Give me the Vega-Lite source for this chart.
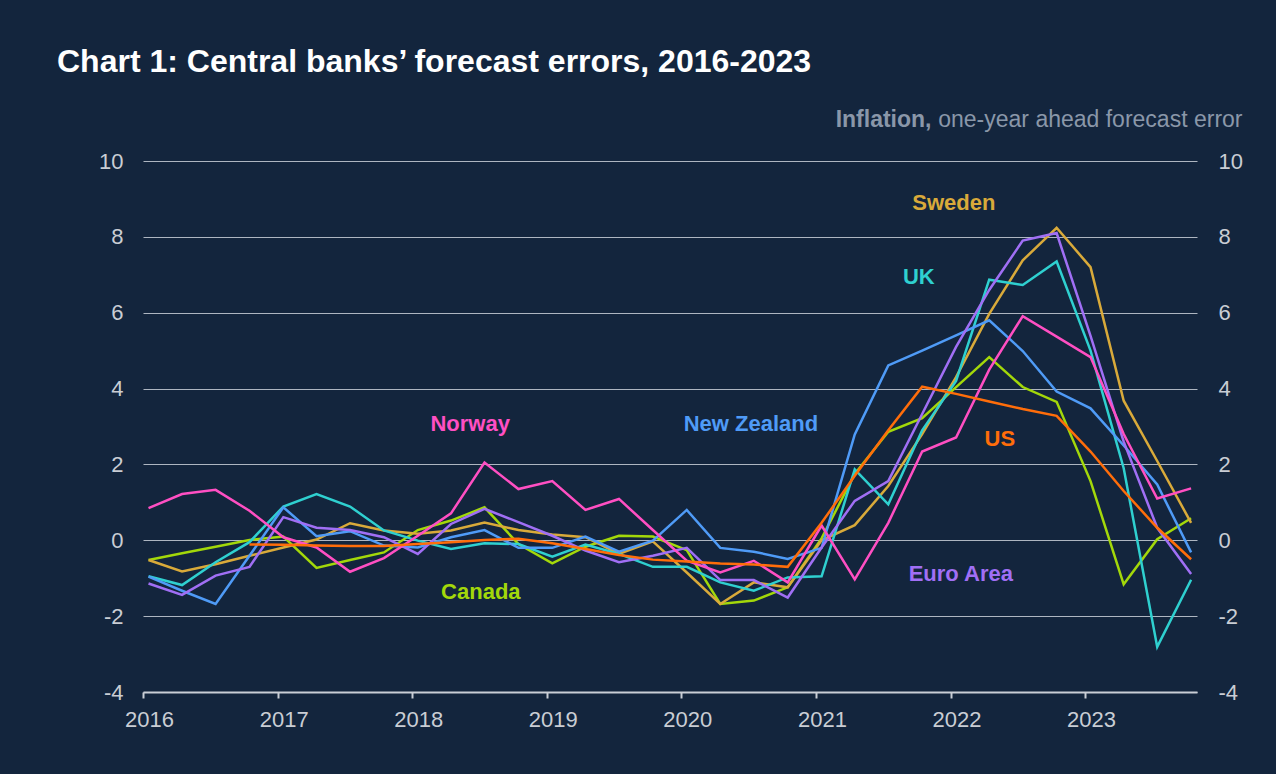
{
  "$schema": "https://vega.github.io/schema/vega-lite/v6.json",
  "width": 1054,
  "height": 531,
  "autosize": {"type": "none"},
  "padding": {"left": 143, "top": 161, "right": 79, "bottom": 82},
  "background": "#13253d",
  "config": {
    "view": {"stroke": null},
    "font": "Liberation Sans"
  },
  "title": {
    "text": "Chart 1: Central banks’ forecast errors, 2016-2023",
    "anchor": "start",
    "frame": "group",
    "dx": -86,
    "offset": 30,
    "font": "Liberation Sans",
    "fontSize": 32,
    "fontWeight": "bold",
    "color": "#ffffff"
  },
  "datasets": {
    "series": [
      {"date": "2016-01-16", "Norway": 0.85, "New Zealand": -0.96, "Canada": -0.52, "Sweden": -0.52, "UK": -0.95, "US": null, "Euro Area": -1.14},
      {"date": "2016-04-16", "Norway": 1.22, "New Zealand": -1.33, "Canada": -0.34, "Sweden": -0.82, "UK": -1.18, "US": null, "Euro Area": -1.44},
      {"date": "2016-07-16", "Norway": 1.33, "New Zealand": -1.68, "Canada": -0.17, "Sweden": -0.63, "UK": -0.58, "US": null, "Euro Area": -0.93},
      {"date": "2016-10-16", "Norway": 0.78, "New Zealand": -0.41, "Canada": 0.01, "Sweden": -0.41, "UK": -0.05, "US": -0.11, "Euro Area": -0.70},
      {"date": "2017-01-16", "Norway": 0.08, "New Zealand": 0.87, "Canada": 0.10, "Sweden": -0.19, "UK": 0.89, "US": -0.12, "Euro Area": 0.61},
      {"date": "2017-04-16", "Norway": -0.19, "New Zealand": 0.11, "Canada": -0.73, "Sweden": 0.02, "UK": 1.22, "US": -0.14, "Euro Area": 0.33},
      {"date": "2017-07-16", "Norway": -0.83, "New Zealand": 0.24, "Canada": -0.52, "Sweden": 0.45, "UK": 0.89, "US": -0.15, "Euro Area": 0.27},
      {"date": "2017-10-16", "Norway": -0.47, "New Zealand": -0.14, "Canada": -0.32, "Sweden": 0.26, "UK": 0.26, "US": -0.15, "Euro Area": 0.08},
      {"date": "2018-01-16", "Norway": 0.12, "New Zealand": -0.19, "Canada": 0.27, "Sweden": 0.17, "UK": -0.01, "US": -0.10, "Euro Area": -0.36},
      {"date": "2018-04-16", "Norway": 0.71, "New Zealand": 0.08, "Canada": 0.52, "Sweden": 0.26, "UK": -0.23, "US": -0.05, "Euro Area": 0.43},
      {"date": "2018-07-16", "Norway": 2.05, "New Zealand": 0.27, "Canada": 0.87, "Sweden": 0.47, "UK": -0.08, "US": 0.01, "Euro Area": 0.83},
      {"date": "2018-10-16", "Norway": 1.35, "New Zealand": -0.20, "Canada": -0.10, "Sweden": 0.27, "UK": -0.10, "US": 0.04, "Euro Area": 0.48},
      {"date": "2019-01-16", "Norway": 1.56, "New Zealand": -0.20, "Canada": -0.61, "Sweden": 0.15, "UK": -0.43, "US": -0.08, "Euro Area": 0.12},
      {"date": "2019-04-16", "Norway": 0.80, "New Zealand": 0.10, "Canada": -0.17, "Sweden": 0.08, "UK": -0.11, "US": -0.23, "Euro Area": -0.27},
      {"date": "2019-07-16", "Norway": 1.09, "New Zealand": -0.30, "Canada": 0.12, "Sweden": -0.36, "UK": -0.36, "US": -0.39, "Euro Area": -0.58},
      {"date": "2019-10-16", "Norway": 0.27, "New Zealand": -0.01, "Canada": 0.10, "Sweden": -0.03, "UK": -0.70, "US": -0.51, "Euro Area": -0.41},
      {"date": "2020-01-16", "Norway": -0.54, "New Zealand": 0.80, "Canada": -0.26, "Sweden": -0.85, "UK": -0.70, "US": -0.56, "Euro Area": -0.20},
      {"date": "2020-04-16", "Norway": -0.85, "New Zealand": -0.20, "Canada": -1.68, "Sweden": -1.68, "UK": -1.11, "US": -0.61, "Euro Area": -1.05},
      {"date": "2020-07-16", "Norway": -0.54, "New Zealand": -0.30, "Canada": -1.59, "Sweden": -1.11, "UK": -1.33, "US": -0.64, "Euro Area": -1.05},
      {"date": "2020-10-16", "Norway": -1.11, "New Zealand": -0.49, "Canada": -1.24, "Sweden": -1.24, "UK": -0.98, "US": -0.70, "Euro Area": -1.51},
      {"date": "2021-01-16", "Norway": 0.39, "New Zealand": -0.20, "Canada": 0.05, "Sweden": 0.00, "UK": -0.95, "US": 0.46, "Euro Area": -0.19},
      {"date": "2021-04-16", "Norway": -1.03, "New Zealand": 2.79, "Canada": 1.75, "Sweden": 0.40, "UK": 1.87, "US": 1.70, "Euro Area": 1.04},
      {"date": "2021-07-16", "Norway": 0.46, "New Zealand": 4.61, "Canada": 2.86, "Sweden": 1.43, "UK": 0.95, "US": 2.90, "Euro Area": 1.56},
      {"date": "2021-10-16", "Norway": 2.34, "New Zealand": 5.00, "Canada": 3.22, "Sweden": 2.80, "UK": 2.90, "US": 4.05, "Euro Area": 3.33},
      {"date": "2022-01-16", "Norway": 2.71, "New Zealand": 5.40, "Canada": 4.04, "Sweden": 4.30, "UK": 4.20, "US": 3.86, "Euro Area": 5.10},
      {"date": "2022-04-16", "Norway": 4.50, "New Zealand": 5.80, "Canada": 4.83, "Sweden": 5.97, "UK": 6.87, "US": 3.66, "Euro Area": 6.60},
      {"date": "2022-07-16", "Norway": 5.91, "New Zealand": 4.99, "Canada": 4.04, "Sweden": 7.38, "UK": 6.73, "US": 3.46, "Euro Area": 7.90},
      {"date": "2022-10-16", "Norway": 5.37, "New Zealand": 3.92, "Canada": 3.65, "Sweden": 8.24, "UK": 7.35, "US": 3.28, "Euro Area": 8.10},
      {"date": "2023-01-16", "Norway": 4.83, "New Zealand": 3.48, "Canada": 1.56, "Sweden": 7.20, "UK": 5.00, "US": 2.34, "Euro Area": 5.39},
      {"date": "2023-04-16", "Norway": 2.80, "New Zealand": 2.50, "Canada": -1.16, "Sweden": 3.68, "UK": 1.90, "US": 1.30, "Euro Area": 2.60},
      {"date": "2023-07-16", "Norway": 1.10, "New Zealand": 1.47, "Canada": 0.03, "Sweden": 2.09, "UK": -2.81, "US": 0.33, "Euro Area": 0.33},
      {"date": "2023-10-16", "Norway": 1.37, "New Zealand": -0.32, "Canada": 0.58, "Sweden": 0.46, "UK": -1.04, "US": -0.50, "Euro Area": -0.89}
    ],
    "labels": [
      {"date": "2018-06-07", "value": 3.06, "country": "Norway"},
      {"date": "2020-07-08", "value": 3.06, "country": "New Zealand"},
      {"date": "2018-07-06", "value": -1.37, "country": "Canada"},
      {"date": "2022-01-10", "value": 8.89, "country": "Sweden"},
      {"date": "2021-10-07", "value": 6.94, "country": "UK"},
      {"date": "2022-05-15", "value": 2.67, "country": "US"},
      {"date": "2022-01-29", "value": -0.9, "country": "Euro Area"}
    ]
  },
  "resolve": {"scale": {"y": "independent"}},
  "layer": [
    {
      "data": {"name": "series"},
      "transform": [
        {"fold": ["Canada", "Sweden", "UK", "New Zealand", "Euro Area", "Norway", "US"], "as": ["country", "value"]}
      ],
      "mark": {"type": "line", "strokeWidth": 2.5},
      "encoding": {
        "x": {
          "field": "date",
          "type": "temporal",
          "title": null,
          "scale": {"type": "utc", "domain": [{"year": 2016, "month": 1, "date": 1, "utc": true}, {"year": 2023, "month": 11, "date": 1, "utc": true}]},
          "axis": {
            "title": null,
            "format": "%Y",
            "tickCount": {"interval": "year", "step": 1},
            "grid": false,
            "domain": true,
            "domainColor": "#c9ced6",
            "domainWidth": 2,
            "ticks": true,
            "tickColor": "#c9ced6",
            "tickWidth": 2,
            "tickSize": 6,
            "labelFlush": false,
            "labelOffset": 6,
            "labelPadding": 11,
            "labelFontSize": 22,
            "labelFont": "Liberation Sans",
            "labelColor": "#c9cdd4"
          }
        },
        "y": {
          "field": "value",
          "type": "quantitative",
          "scale": {"domain": [-4, 10], "nice": false, "zero": false},
          "axis": {
            "orient": "left",
            "values": [-4, -2, 0, 2, 4, 6, 8, 10],
            "labelExpr": "replace(datum.label, '−', '-')",
            "grid": true,
            "gridColor": "#aeb6c1",
            "gridWidth": 1,
            "domain": false,
            "ticks": false,
            "labelPadding": 20,
            "labelFontSize": 22,
            "labelFont": "Liberation Sans",
            "labelColor": "#c9cdd4",
            "title": "Inflation,",
            "titleAngle": 0,
            "titleAlign": "right",
            "titleBaseline": "alphabetic",
            "titleX": 788,
            "titleY": -34.5,
            "titleFont": "Liberation Sans",
            "titleFontSize": 23,
            "titleFontWeight": "bold",
            "titleColor": "#8a97a9"
          }
        },
        "color": {
          "field": "country",
          "type": "nominal",
          "scale": {
            "domain": ["Canada", "Sweden", "UK", "New Zealand", "Euro Area", "Norway", "US"],
            "range": ["#a3d80a", "#d9aa3a", "#2fd0d0", "#4f9bf7", "#a06ff5", "#ff4fc3", "#ff6d0a"]
          },
          "legend": null
        }
      }
    },
    {
      "data": {"name": "labels"},
      "mark": {"type": "text", "font": "Liberation Sans", "fontSize": 22, "fontWeight": "bold", "align": "center", "baseline": "middle"},
      "encoding": {
        "x": {"field": "date", "type": "temporal", "title": null},
        "y": {
          "field": "value",
          "type": "quantitative",
          "scale": {"domain": [-4, 10], "nice": false, "zero": false},
          "axis": {
            "orient": "right",
            "values": [-4, -2, 0, 2, 4, 6, 8, 10],
            "labelExpr": "replace(datum.label, '−', '-')",
            "grid": false,
            "domain": false,
            "ticks": false,
            "labelPadding": 21,
            "labelFontSize": 22,
            "labelFont": "Liberation Sans",
            "labelColor": "#c9cdd4",
            "title": "one-year ahead forecast error",
            "titleAngle": 0,
            "titleAlign": "right",
            "titleBaseline": "alphabetic",
            "titleX": 45,
            "titleY": -34.5,
            "titleFont": "Liberation Sans",
            "titleFontSize": 23,
            "titleFontWeight": "normal",
            "titleColor": "#8a97a9"
          }
        },
        "color": {"field": "country", "type": "nominal", "legend": null},
        "text": {"field": "country"}
      }
    }
  ]
}
